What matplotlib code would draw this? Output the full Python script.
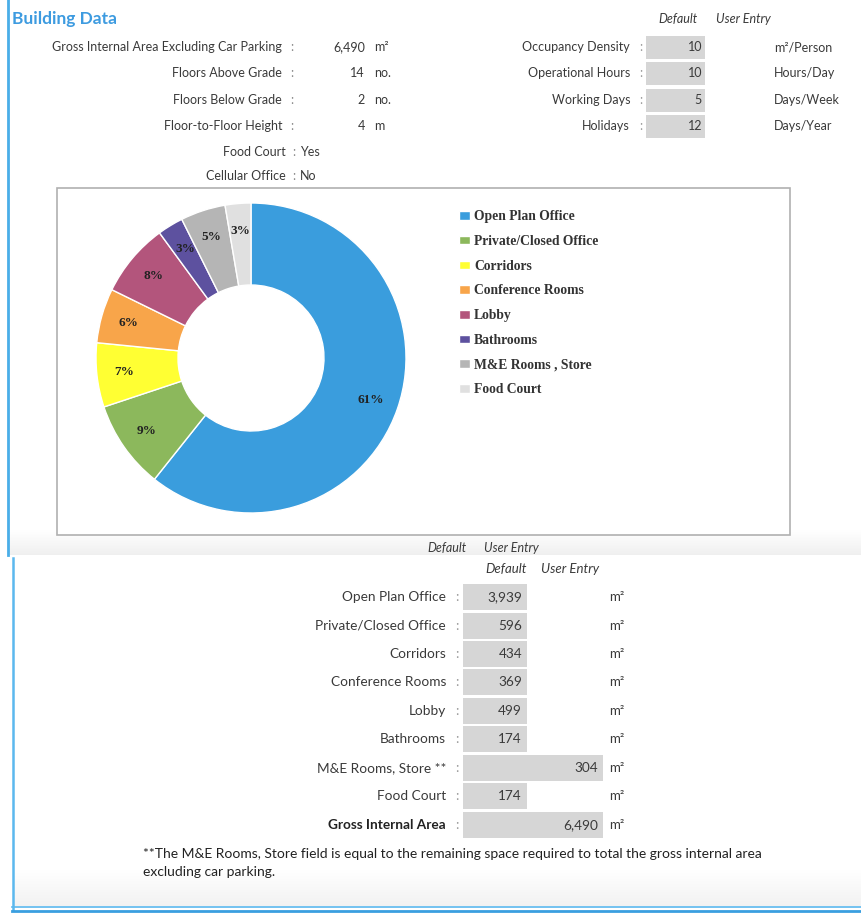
import matplotlib
matplotlib.use('Agg')
import matplotlib.pyplot as plt
from matplotlib.patches import Rectangle
import numpy as np

# building data (top block)
info_labels = ['Gross Internal Area Excluding Car Parking', 'Floors Above Grade',
               'Floors Below Grade', 'Floor-to-Floor Height']
info_values = ['6,490', '14', '2', '4']
info_units = ['m²', 'no.', 'no.', 'm']
flag_labels = ['Food Court', 'Cellular Office']
flag_values = ['Yes', 'No']

occ_labels = ['Occupancy Density', 'Operational Hours', 'Working Days', 'Holidays']
occ_values = ['10', '10', '5', '12']
occ_units = ['m²/Person', 'Hours/Day', 'Days/Week', 'Days/Year']

# space breakdown
spaces = ['Open Plan Office', 'Private/Closed Office', 'Corridors', 'Conference Rooms',
          'Lobby', 'Bathrooms', 'M&E Rooms , Store', 'Food Court']
areas = [3939, 596, 434, 369, 499, 174, 304, 174]
colors = ['#3a9ddd', '#8cb85c', '#ffff33', '#f8a54a', '#b3557c', '#5d519f', '#b5b5b5', '#e0e0e0']

table_labels = ['Open Plan Office', 'Private/Closed Office', 'Corridors', 'Conference Rooms',
                'Lobby', 'Bathrooms', 'M&E Rooms, Store **', 'Food Court', 'Gross Internal Area']
table_values = ['3,939', '596', '434', '369', '499', '174', '304', '174', '6,490']
wide_rows = [6, 8]

W, H = 861, 915
fig = plt.figure(figsize=(W / 100, H / 100), dpi=100)
bg = fig.add_axes([0, 0, 1, 1])
bg.set_xlim(0, W)
bg.set_ylim(H, 0)
bg.axis('off')

sans = 'Lato'
txt = '#3a3a3a'
fs = 9
box_c = '#d6d6d6'


def fade(y0, y1, x0, dark):
    # vertical white -> light grey strip
    t = np.linspace(0, 1, 40).reshape(-1, 1)
    img = np.dstack([1 - t * dark] * 3)
    bg.imshow(img, extent=(x0, W, y1, y0), aspect='auto', zorder=0, interpolation='bilinear')


# panel frames
fade(530, 555, 9, 0.06)
fade(870, 906, 13, 0.05)
bg.plot([8, 8], [0, 555], color='#4aaee8', lw=2)
bg.plot([12.5, 12.5], [558, 910], color='#5bb8ee', lw=1.8)
bg.plot([12, W], [907, 907], color='#5bb8ee', lw=1.2)
bg.plot([12, W], [910.5, 910.5], color='#3a9fe0', lw=2)

bg.text(12, 19, 'Building Data', fontsize=12.5, fontweight='bold', color='#3d9be0',
        family=sans, va='center')

# left info rows
rows_y = [47, 73, 100, 126]
for i, y in enumerate(rows_y):
    bg.text(282, y, info_labels[i], ha='right', va='center', fontsize=fs, family=sans, color=txt)
    bg.text(292, y, ':', ha='center', va='center', fontsize=fs, family=sans, color='#888888')
    bg.text(365, y, info_values[i], ha='right', va='center', fontsize=fs, family=sans, color=txt)
    bg.text(374, y, info_units[i], ha='left', va='center', fontsize=fs, family=sans, color=txt)
for i, y in enumerate([152, 176]):
    bg.text(286, y, flag_labels[i], ha='right', va='center', fontsize=fs, family=sans, color=txt)
    bg.text(294, y, ':', ha='center', va='center', fontsize=fs, family=sans, color='#888888')
    bg.text(300, y, flag_values[i], ha='left', va='center', fontsize=fs, family=sans, color=txt)

# right occupancy rows
bg.text(678, 19, 'Default', ha='center', va='center', fontsize=9, family=sans, style='italic', color=txt)
bg.text(743, 19, 'User Entry', ha='center', va='center', fontsize=9, family=sans, style='italic', color=txt)
for i, y in enumerate(rows_y):
    bg.add_patch(Rectangle((646, y - 11.5), 59, 23, color=box_c, lw=0))
    bg.text(630, y, occ_labels[i], ha='right', va='center', fontsize=fs, family=sans, color=txt)
    bg.text(641, y, ':', ha='center', va='center', fontsize=fs, family=sans, color='#999999')
    bg.text(702, y, occ_values[i], ha='right', va='center', fontsize=fs, family=sans, color=txt)
    bg.text(774, y, occ_units[i], ha='left', va='center', fontsize=fs, family=sans, color=txt)

# chart frame
bg.add_patch(Rectangle((57, 188), 733, 347, fc='white', ec='#b0b0b0', lw=1.2, zorder=1))

# donut
r_out, cx, cy = 155, 251, 358
pie_ax = fig.add_axes([(cx - r_out) / W, 1 - (cy + r_out) / H, 2 * r_out / W, 2 * r_out / H])
wedges, _, autotexts = pie_ax.pie(
    areas, colors=colors, startangle=90, counterclock=False, autopct='%.0f%%',
    pctdistance=0.82, radius=1,
    wedgeprops=dict(width=(155 - 73) / 155, edgecolor='white', linewidth=1),
    textprops=dict(family='Liberation Serif', fontweight='bold', fontsize=9.5, color='#222222'))
pie_ax.set_xlim(-1, 1)
pie_ax.set_ylim(-1, 1)
pie_ax.set_aspect('equal')

fig.legend(wedges, spaces, loc='upper left', bbox_to_anchor=(447 / W, 1 - 198 / H),
           frameon=False, prop=dict(family='Liberation Serif', weight='bold', size=9.8),
           handlelength=0.8, handleheight=0.6, handletextpad=0.3, labelspacing=0.86,
           labelcolor='#333333')

# bottom table
bg.text(447, 548, 'Default', ha='center', va='center', fontsize=9, family=sans, style='italic', color=txt)
bg.text(511, 548, 'User Entry', ha='center', va='center', fontsize=9, family=sans, style='italic', color=txt)
bg.text(506, 569, 'Default', ha='center', va='center', fontsize=9.5, family=sans, style='italic', color=txt)
bg.text(570, 569, 'User Entry', ha='center', va='center', fontsize=9.5, family=sans, style='italic', color=txt)
tab_y = [597, 626, 654, 682, 711, 739, 768, 796, 825]
for i, y in enumerate(tab_y):
    wide = i in wide_rows
    x1 = 603 if wide else 527
    bg.add_patch(Rectangle((463, y - 13), x1 - 463, 26, color=box_c, lw=0))
    bold = 'bold' if i == 8 else 'normal'
    bg.text(446, y, table_labels[i], ha='right', va='center', fontsize=9.8, family=sans,
            color='#222222' if i == 8 else txt, fontweight=bold)
    bg.text(457, y, ':', ha='center', va='center', fontsize=9.8, family=sans, color='#999999')
    bg.text(x1 - 5, y, table_values[i], ha='right', va='center', fontsize=9.8, family=sans, color=txt)
    bg.text(609, y, 'm²', ha='left', va='center', fontsize=9.5, family=sans, color=txt)

bg.text(143, 854, '**The M&E Rooms, Store field is equal to the remaining space required to total the gross internal area',
        ha='left', va='center', fontsize=10, family=sans, color='#222222')
bg.text(143, 872, 'excluding car parking.', ha='left', va='center', fontsize=10, family=sans, color='#222222')

fig.savefig('out.png', dpi=100)
